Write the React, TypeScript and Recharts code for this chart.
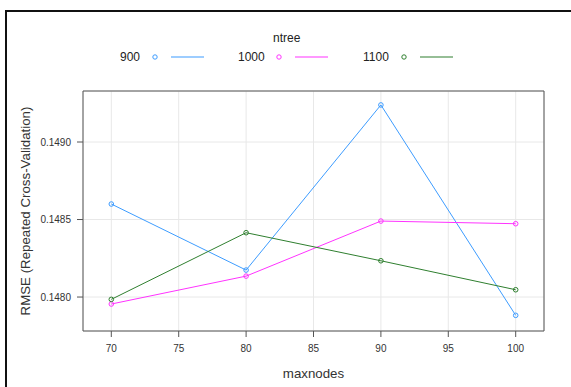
import { LineChart, Line, XAxis, YAxis, CartesianGrid } from "recharts";

const maxnodes = [70, 80, 90, 100];
const rmse900 = [0.1486, 0.148174, 0.149239, 0.147882];
const rmse1000 = [0.147955, 0.148135, 0.14849, 0.148473];
const rmse1100 = [0.147985, 0.148415, 0.148234, 0.148047];

const xTicks = [70, 75, 80, 85, 90, 95, 100];
const yTicks = [0.148, 0.1485, 0.149];

const series = [
  { key: "n900", label: "900", color: "#3d9cff", values: rmse900 },
  { key: "n1000", label: "1000", color: "#ff33ff", values: rmse1000 },
  { key: "n1100", label: "1100", color: "#2f7f2f", values: rmse1100 },
];

const data = maxnodes.map((m, i) => {
  const row: Record<string, number> = { maxnodes: m };
  series.forEach((s) => {
    row[s.key] = s.values[i];
  });
  return row;
});

const X_DOMAIN: [number, number] = [67.9, 102.1];
const Y_DOMAIN: [number, number] = [0.147781, 0.149329];
const AXIS = "#555";
const TEXT = "#333";
const FONT = "'Liberation Sans', Arial, sans-serif";

function LegendBox() {
  const left = [120, 238, 363];
  return (
    <div style={{ position: "absolute", left: 0, top: 0, width: 571, height: 80, fontFamily: FONT }}>
      <div style={{ position: "absolute", left: 273, top: 31, fontSize: 12, color: "#222" }}>ntree</div>
      {series.map((s, i) => (
        <div
          key={s.key}
          style={{ position: "absolute", left: left[i], top: 49, height: 16, display: "flex", alignItems: "center" }}
        >
          <span style={{ fontSize: 12, color: "#222", width: s.label.length === 3 ? 32 : 38 }}>{s.label}</span>
          <svg width={52} height={16}>
            <circle cx={3} cy={8} r={2.2} fill="none" stroke={s.color} strokeWidth={1} />
            <line x1={19} x2={53} y1={8} y2={8} stroke={s.color} strokeWidth={1.2} />
          </svg>
        </div>
      ))}
    </div>
  );
}

export default function App() {
  return (
    <div
      style={{
        position: "fixed",
        left: 0,
        top: 0,
        width: 571,
        height: 387,
        overflow: "hidden",
        background: "#fff",
        fontFamily: FONT,
      }}
    >
      <LineChart
        width={571}
        height={387}
        data={data}
        margin={{ top: 81, right: 17, bottom: 26, left: 23 }}
        style={{ position: "absolute", left: 0, top: 0 }}
      >
        <CartesianGrid stroke="#e8e8e8" strokeWidth={1} />
        <XAxis
          dataKey="maxnodes"
          type="number"
          domain={X_DOMAIN}
          ticks={xTicks}
          interval={0}
          allowDataOverflow
          height={30}
          tickSize={6}
          tickMargin={8}
          stroke={AXIS}
          tick={{ fontSize: 10, fill: TEXT, fontFamily: FONT }}
          label={{
            content: ({ viewBox }: any) => (
              <text
                x={viewBox.x + viewBox.width / 2}
                y={378}
                textAnchor="middle"
                fontSize={13.3}
                fill={TEXT}
                fontFamily={FONT}
              >
                maxnodes
              </text>
            ),
          }}
        />
        <XAxis
          xAxisId="top"
          orientation="top"
          type="number"
          domain={X_DOMAIN}
          ticks={xTicks}
          interval={0}
          allowDataOverflow
          height={10}
          tickSize={6}
          stroke={AXIS}
          tick={false}
        />
        <YAxis
          type="number"
          domain={Y_DOMAIN}
          ticks={yTicks}
          interval={0}
          allowDataOverflow
          width={60}
          tickSize={6}
          tickMargin={6}
          stroke={AXIS}
          tickFormatter={(v: number) => v.toFixed(4)}
          tick={{ fontSize: 10, fill: TEXT, fontFamily: FONT }}
          label={{
            content: () => (
              <text
                x={25}
                y={211}
                transform="rotate(-90 25 211)"
                textAnchor="middle"
                dominantBaseline="central"
                fontSize={13.3}
                fill={TEXT}
                fontFamily={FONT}
              >
                RMSE (Repeated Cross-Validation)
              </text>
            ),
          }}
        />
        <YAxis
          yAxisId="right"
          orientation="right"
          type="number"
          domain={Y_DOMAIN}
          ticks={yTicks}
          interval={0}
          allowDataOverflow
          width={10}
          tickSize={6}
          stroke={AXIS}
          tick={false}
        />
        {series.map((s) => (
          <Line
            key={s.key}
            type="linear"
            dataKey={s.key}
            stroke={s.color}
            strokeWidth={1}
            dot={{ r: 2.3, fill: "none", stroke: s.color, strokeWidth: 1 }}
            activeDot={false}
            isAnimationActive={false}
          />
        ))}
      </LineChart>
      <LegendBox />
      <div style={{ position: "absolute", left: 5, top: 10, width: 566, height: 2, background: "#111", zIndex: 2 }} />
      <div style={{ position: "absolute", left: 5, top: 10, width: 2, height: 377, background: "#111", zIndex: 2 }} />
    </div>
  );
}
